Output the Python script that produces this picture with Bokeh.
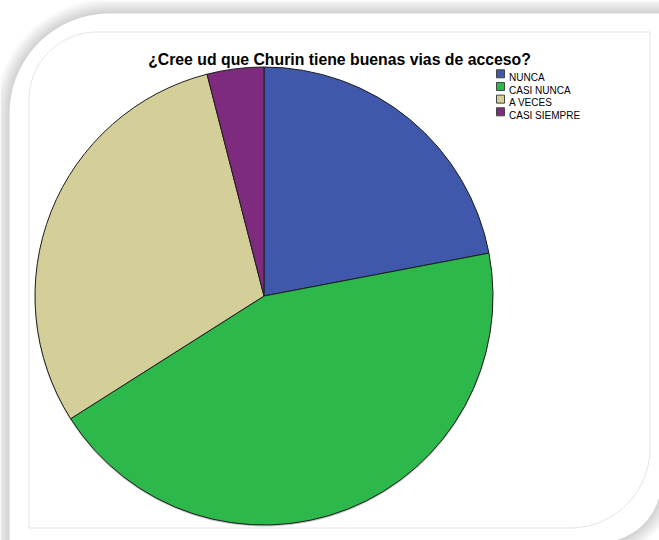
import numpy as np
from bokeh.plotting import figure
from bokeh.models import Range1d, ColumnDataSource
from bokeh.core.properties import value
from bokeh.embed import file_html
from bokeh.resources import INLINE

# ---- data ----
categories = ["NUNCA", "CASI NUNCA", "A VECES", "CASI SIEMPRE"]
counts = [11, 22, 15, 2]
colors = ["#3f58ab", "#2db84b", "#d4ce99", "#7e2a7e"]
title_text = "¿Cree ud que Churin tiene buenas vias de acceso?"

# ---- layout (screen px) ----
W, H = 659, 540


def Y(sy):
    return H - np.asarray(sy, dtype=float)


p = figure(width=W, height=H, x_range=Range1d(0, W), y_range=Range1d(0, H),
           output_backend="svg", toolbar_location=None, x_axis_type=None,
           y_axis_type=None, min_border=0)
p.outline_line_color = None
p.grid.visible = False
p.background_fill_color = "white"
p.border_fill_color = "white"


def rounded(x0, y0, x1, y1, r_tl, r_br, n=48):
    xs, ys = [], []
    t = np.linspace(np.pi, 1.5 * np.pi, n)
    cx, cy = x0 + r_tl, y0 + r_tl
    xs += list(cx + r_tl * np.cos(t)); ys += list(cy + r_tl * np.sin(t))
    xs.append(x1); ys.append(y0)
    t = np.linspace(0, 0.5 * np.pi, n)
    cx, cy = x1 - r_br, y1 - r_br
    xs += list(cx + r_br * np.cos(t)); ys += list(cy + r_br * np.sin(t))
    xs.append(x0); ys.append(y1)
    return np.array(xs), Y(ys)


# shadow layers around outer card
for k in range(15, 0, -1):
    xs, ys = rounded(9 - k, 13 - k, 661 + k, 542 + k, 100 + k, 62 + k)
    p.patch(xs, ys, fill_color="black", fill_alpha=0.013, line_color=None)

# outer white card
xs, ys = rounded(9, 13, 661, 542, 100, 62)
p.patch(xs, ys, fill_color="white", line_color=None)

# inner frame
xs, ys = rounded(28.5, 31.5, 649.5, 527.5, 68, 80)
p.patch(xs, ys, fill_color="white", line_color="#e4e4e4", line_width=1)

# ---- pie ----
cx, cy, r = 263.5, float(Y(295.5)), 229
frac = np.array(counts, dtype=float) / sum(counts)
cum = np.concatenate([[0], np.cumsum(frac)])
start = np.pi / 2 - cum[:-1] * 2 * np.pi
end = np.pi / 2 - cum[1:] * 2 * np.pi

# subtle shadow under pie
p.circle(x=[cx], y=[cy - 1.2], radius=r + 0.3, fill_color="#777777", fill_alpha=0.45,
         line_color=None)

src = ColumnDataSource(dict(cat=categories, start=start, end=end, color=colors))
p.wedge(x=cx, y=cy, radius=r, start_angle="start", end_angle="end", direction="clock",
        fill_color="color", line_color="#1e1e1e", line_width=1, source=src)

# ---- title ----
p.text(x=[339], y=[float(Y(59))], text=[title_text], text_font=value("Liberation Sans"),
       text_font_style="bold", text_font_size="15.8px", text_align="center",
       text_baseline="alphabetic", text_color="black")

# ---- legend ----
lx, ly0, pitch, bs = 500, 73.3, 12.67, 8
ly = ly0 + pitch * np.arange(len(categories))
p.rect(x=[lx] * len(categories), y=Y(ly), width=bs, height=bs, fill_color=colors,
       line_color="#444444", line_width=1)
p.text(x=[508.5] * len(categories), y=Y(ly + 3.7), text=categories,
       text_font=value("Liberation Sans"), text_font_size="10px", text_align="left",
       text_baseline="alphabetic", text_color="black")

open("out.html", "w").write(file_html(p, INLINE))
